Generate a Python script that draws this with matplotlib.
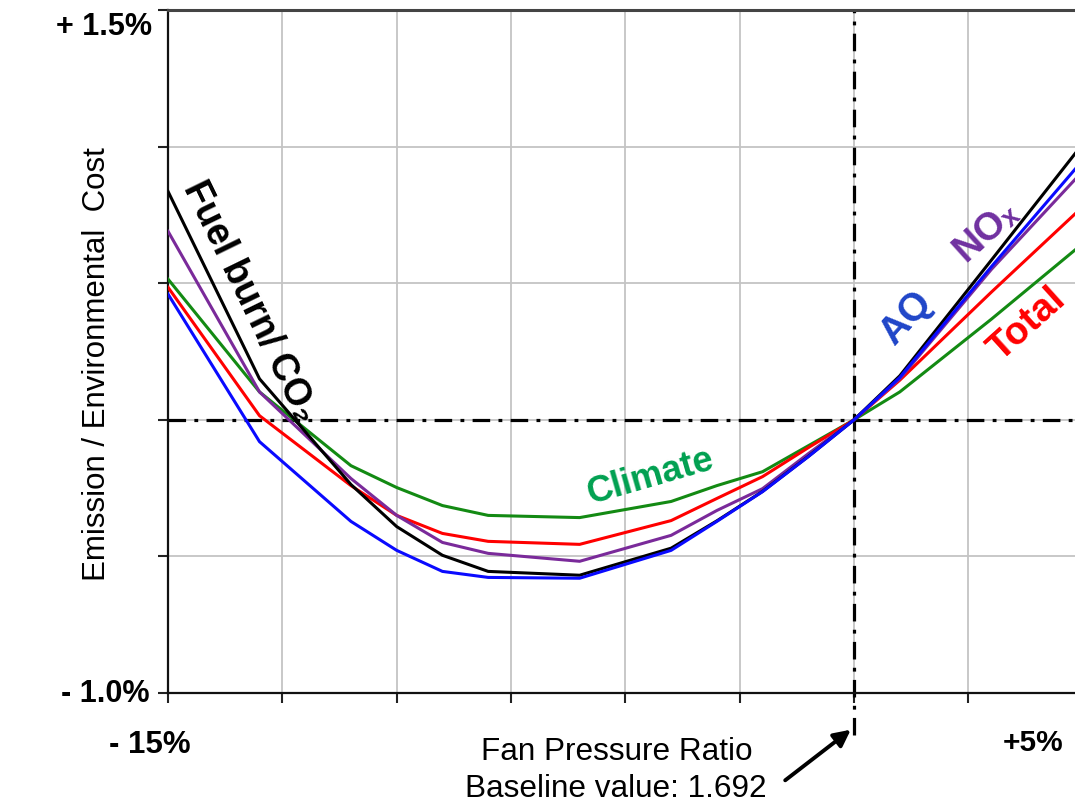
import numpy as np
import matplotlib
matplotlib.use("Agg")
import matplotlib.pyplot as plt

plt.rcParams['font.family'] = ['Liberation Sans', 'DejaVu Sans']

# fan pressure ratio change (%) and relative change of each metric (%)
fpr_change = [-15, -13, -11, -10, -9, -8, -6, -4, -3, -2, -1, 0, 1, 3, 5]
fuel_burn = [0.836, 0.150, -0.237, -0.391, -0.496, -0.555, -0.569, -0.47, -0.37, -0.262, -0.134, 0, 0.161, 0.584, 1.01]
aq = [0.46, -0.08, -0.372, -0.478, -0.555, -0.577, -0.580, -0.478, -0.372, -0.263, -0.135, 0, 0.155, 0.56, 0.95]
nox = [0.69, 0.102, -0.215, -0.350, -0.449, -0.489, -0.518, -0.423, -0.332, -0.252, -0.124, 0, 0.15, 0.55, 0.91]
total = [0.485, 0.015, -0.241, -0.350, -0.416, -0.445, -0.456, -0.369, -0.288, -0.208, -0.102, 0, 0.145, 0.467, 0.78]
climate = [0.515, 0.102, -0.168, -0.248, -0.314, -0.350, -0.358, -0.299, -0.241, -0.190, -0.095, 0, 0.102, 0.368, 0.645]

x_grid = [-15, -12.5, -10, -7.5, -5, -2.5, 0, 2.5, 5]
y_grid = [-1.0, -0.5, 0, 0.5, 1.0, 1.5]

fig = plt.figure(figsize=(10.75, 8.07), dpi=100)
ax = fig.add_axes([0.1563, 0.1413, 0.8509, 0.8463])
ax.set_xlim(-15, 5)
ax.set_ylim(-1.0, 1.5)

ax.set_xticks(x_grid)
ax.set_yticks(y_grid)
ax.set_xticklabels([])
ax.set_yticklabels([])
ax.grid(True, color='#c4c4c4', lw=1.3)
ax.tick_params(axis='both', direction='out', length=7, width=1.5, color='#222222')
for s in ['left', 'bottom']:
    ax.spines[s].set_linewidth(1.6)
    ax.spines[s].set_color('#111111')
ax.spines['top'].set_color('#444444')
ax.spines['top'].set_linewidth(2.2)
ax.spines['right'].set_visible(False)

lw = 2.2
ax.plot(fpr_change, climate, color='#138a13', lw=lw, zorder=3)
ax.plot(fpr_change, total, color='#ff0000', lw=lw, zorder=3)
ax.plot(fpr_change, nox, color='#7a2a9a', lw=lw, zorder=3)
ax.plot(fpr_change, fuel_burn, color='#000000', lw=lw, zorder=3)
ax.plot(fpr_change, aq, color='#0a0aff', lw=lw, zorder=3)

# baseline cross
ax.axhline(0, color='black', lw=2.3, dashes=(5.5, 2.6, 1.2, 2.6), zorder=2)
ax.plot([0, 0], [-1.155, 1.5], color='black', lw=2.3, dashes=(5.5, 2.6, 1.2, 2.6),
        clip_on=False, zorder=2)

# curve labels
ax.text(-13.22, 0.43, 'Fuel burn/ CO₂', rotation=-64, fontsize=27, fontweight='bold',
        color='black', ha='center', va='center', rotation_mode='anchor')
ax.text(-4.44, -0.21, 'Climate', rotation=16, fontsize=26, fontweight='bold',
        color='#00a050', ha='center', va='center', rotation_mode='anchor')
ax.text(1.15, 0.37, 'AQ', rotation=48, fontsize=28, fontweight='bold',
        color='#1f45c8', ha='center', va='center', rotation_mode='anchor')
ax.text(2.87, 0.69, 'NOₓ', rotation=42, fontsize=28, fontweight='bold',
        color='#7030a0', ha='center', va='center', rotation_mode='anchor')
ax.text(3.78, 0.35, 'Total', rotation=42, fontsize=28, fontweight='bold',
        color='#ff0000', ha='center', va='center', rotation_mode='anchor')

# axis labels written as plain text like the slide
fig.text(0.1414, 0.9665, '+ 1.5%', fontsize=22, fontweight='bold', ha='right', va='center')
fig.text(0.1395, 0.140, '- 1.0%', fontsize=22, fontweight='bold', ha='right', va='center')
fig.text(0.1395, 0.0768, '- 15%', fontsize=22.5, fontweight='bold', ha='center', va='center')
fig.text(0.961, 0.0793, '+5%', fontsize=21.5, fontweight='bold', ha='center', va='center')

fig.text(0.090, 1 - 364 / 807, 'Emission / Environmental  Cost', rotation=90,
         fontsize=22.5, ha='center', va='center')
fig.text(617 / 1075, 1 - 752 / 807, 'Fan Pressure Ratio', fontsize=22.7, ha='center', va='center')
fig.text(616 / 1075, 1 - 789 / 807, 'Baseline value: 1.692', fontsize=22.7, ha='center', va='center')

fig.add_artist(matplotlib.patches.FancyArrowPatch(
    (783 / 1075, 1 - 782 / 807), (853 / 1075, 1 - 728 / 807),
    transform=fig.transFigure, arrowstyle='-|>', mutation_scale=25, lw=2.8, color='black'))

fig.savefig('out.png', dpi=100)
